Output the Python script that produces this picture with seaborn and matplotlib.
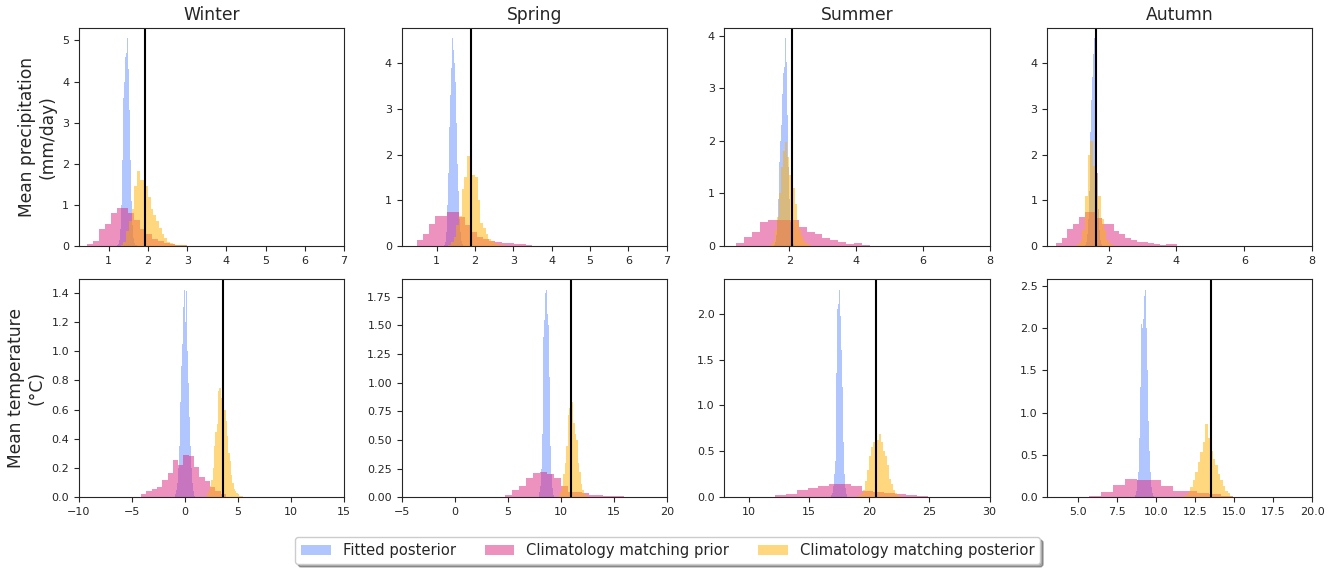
import numpy as np
import pandas as pd
import matplotlib
matplotlib.use("Agg")
import matplotlib.pyplot as plt
from matplotlib.ticker import MaxNLocator
import seaborn as sns
from matplotlib.patches import Patch

seasons = ["Winter", "Spring", "Summer", "Autumn"]
row_labels = ["Mean precipitation\n(mm/day)", "Mean temperature\n(°C)"]
series_labels = ["Fitted posterior", "Climatology matching prior",
                 "Climatology matching posterior"]
series_colors = ["#648FFF", "#DC267F", "#FFB000"]

# Histogram densities. Each *_bins tuple is (first bin edge, bin width).
# --- precipitation (mm/day) ---
pr_win_fit_bins = (1.20, 0.025)
pr_win_fit = [0.02, 0.05, 0.15, 0.4, 1.0, 2.1, 3.1, 3.6, 4.0, 4.6, 4.7, 5.05, 4.3,
              3.3, 2.1, 1.1, 0.5, 0.2, 0.08, 0.03, 0.01]
pr_win_prior_bins = (0.45, 0.15)
pr_win_prior = [0.04, 0.13, 0.40, 0.53, 0.80, 0.91, 0.91, 0.80, 0.62, 0.40, 0.30,
                0.17, 0.12, 0.08, 0.05, 0.02, 0.02]
pr_win_post_bins = (1.30, 0.07)
pr_win_post = [0.02, 0.1, 0.35, 0.6, 0.9, 1.45, 1.82, 1.6, 1.6, 1.45, 1.2, 0.9, 0.75,
               0.6, 0.43, 0.28, 0.18, 0.1, 0.06, 0.04, 0.02, 0.02, 0.01, 0.01]

pr_spr_fit_bins = (1.20, 0.026)
pr_spr_fit = [0.02, 0.08, 0.3, 0.9, 1.6, 2.6, 3.3, 3.9, 4.55, 4.3, 4.0, 3.6, 2.7,
              1.8, 1.2, 0.6, 0.3, 0.1, 0.03]
pr_spr_prior_bins = (0.48, 0.158)
pr_spr_prior = [0.13, 0.25, 0.48, 0.65, 0.65, 0.75, 0.75, 0.63, 0.45, 0.3, 0.2,
                0.15, 0.1, 0.08, 0.07, 0.06, 0.05, 0.04, 0.02]
pr_spr_post_bins = (1.30, 0.07)
pr_spr_post = [0.02, 0.08, 0.2, 0.45, 0.65, 1.25, 1.5, 1.98, 1.55, 1.55, 1.5, 1.0,
               0.5, 0.4, 0.25, 0.15, 0.1, 0.06, 0.03, 0.02, 0.01]

pr_sum_fit_bins = (1.55, 0.03)
pr_sum_fit = [0.02, 0.08, 0.2, 0.5, 0.9, 1.6, 2.0, 2.3, 2.9, 3.3, 3.4, 3.95, 3.5,
              2.5, 1.5, 0.9, 0.45, 0.2, 0.08, 0.03]
pr_sum_prior_bins = (0.41, 0.235)
pr_sum_prior = [0.06, 0.16, 0.27, 0.45, 0.49, 0.50, 0.50, 0.50, 0.35, 0.27, 0.22,
                0.15, 0.12, 0.07, 0.03, 0.05, 0.02]
pr_sum_post_bins = (1.45, 0.06)
pr_sum_post = [0.03, 0.1, 0.3, 0.55, 1.0, 1.5, 1.8, 1.98, 1.7, 1.35, 1.25, 1.1, 0.8,
               0.45, 0.3, 0.18, 0.1, 0.05, 0.03, 0.01]

pr_aut_fit_bins = (1.30, 0.03)
pr_aut_fit = [0.02, 0.08, 0.25, 0.6, 1.2, 2.5, 3.2, 3.7, 4.2, 4.55, 3.6, 2.5, 1.6,
              0.8, 0.35, 0.12, 0.04]
pr_aut_prior_bins = (0.45, 0.17)
pr_aut_prior = [0.06, 0.18, 0.37, 0.47, 0.64, 0.75, 0.75, 0.62, 0.47, 0.47, 0.33,
                0.27, 0.17, 0.13, 0.08, 0.08, 0.06, 0.03, 0.02, 0.03, 0.03]
pr_aut_post_bins = (1.07, 0.0785)
pr_aut_post = [0.03, 0.1, 0.35, 1.1, 2.0, 2.3, 1.75, 1.6, 1.1, 0.6, 0.35, 0.12,
               0.05, 0.02]

# --- temperature (°C) ---
tas_win_fit_bins = (-0.915, 0.095)
tas_win_fit = [0.02, 0.05, 0.1, 0.2, 0.35, 0.65, 0.9, 1.05, 1.3, 1.42, 1.2, 1.41,
               1.0, 0.78, 0.55, 0.35, 0.2, 0.1, 0.04, 0.01]
tas_win_prior_bins = (-4.15, 0.5)
tas_win_prior = [0.02, 0.04, 0.06, 0.07, 0.12, 0.165, 0.256, 0.22, 0.29, 0.28,
                 0.21, 0.14, 0.11, 0.07, 0.04, 0.02]
tas_win_post_bins = (2.10, 0.125)
tas_win_post = [0.03, 0.05, 0.08, 0.12, 0.2, 0.35, 0.45, 0.5, 0.73, 0.75, 0.68,
                0.7, 0.8, 0.6, 0.52, 0.42, 0.3, 0.25, 0.15, 0.1, 0.06, 0.04, 0.03,
                0.02, 0.01, 0.01, 0.01, 0.005]

tas_spr_fit_bins = (7.94, 0.095)
tas_spr_fit = [0.05, 0.1, 0.25, 0.55, 1.4, 1.55, 1.78, 1.81, 1.6, 1.5, 1.05, 0.45,
               0.2, 0.08, 0.02]
tas_spr_prior_bins = (4.75, 0.66)
tas_spr_prior = [0.02, 0.06, 0.1, 0.17, 0.21, 0.22, 0.2, 0.17, 0.1, 0.05, 0.05,
                 0.04, 0.02, 0.02, 0.01, 0.01, 0.01]
tas_spr_post_bins = (9.80, 0.14)
tas_spr_post = [0.02, 0.05, 0.1, 0.2, 0.3, 0.45, 0.72, 0.78, 0.78, 0.83, 0.65, 0.55,
                0.5, 0.3, 0.22, 0.12, 0.06, 0.03, 0.02, 0.01]

tas_sum_fit_bins = (16.8, 0.083)
tas_sum_fit = [0.02, 0.05, 0.12, 0.25, 0.4, 1.35, 2.05, 2.1, 2.26, 1.97, 1.6, 1.2,
               0.6, 0.25, 0.1, 0.04]
tas_sum_prior_bins = (12.16, 0.91)
tas_sum_prior = [0.02, 0.04, 0.08, 0.1, 0.12, 0.14, 0.14, 0.12, 0.07, 0.06, 0.05,
                 0.04, 0.02, 0.01]
tas_sum_post_bins = (19.0, 0.166)
tas_sum_post = [0.01, 0.02, 0.04, 0.08, 0.18, 0.3, 0.45, 0.55, 0.6, 0.65, 0.62,
                0.69, 0.6, 0.5, 0.45, 0.35, 0.2, 0.15, 0.08, 0.05, 0.03, 0.01]

tas_aut_fit_bins = (8.6, 0.064)
tas_aut_fit = [0.03, 0.08, 0.2, 0.3, 0.7, 1.3, 2.05, 2.0, 2.1, 2.38, 2.45, 2.0, 1.5,
               0.9, 0.55, 0.3, 0.12, 0.05, 0.02]
tas_aut_prior_bins = (5.67, 0.77)
tas_aut_prior = [0.02, 0.06, 0.14, 0.21, 0.2, 0.2, 0.13, 0.07, 0.07, 0.05, 0.04,
                 0.02]
tas_aut_post_bins = (11.7, 0.16)
tas_aut_post = [0.02, 0.03, 0.06, 0.12, 0.2, 0.3, 0.42, 0.53, 0.65, 0.86, 0.7, 0.55,
                0.45, 0.38, 0.28, 0.2, 0.13, 0.08, 0.05, 0.02]

# Observed seasonal means (vertical reference lines)
observed_pr = [1.93, 1.89, 2.07, 1.64]
observed_tas = [3.55, 11.0, 20.57, 13.51]

# Per-row, per-season collections: (bins, heights) for fit / prior / posterior
panels = [
    [
        [(pr_win_fit_bins, pr_win_fit), (pr_win_prior_bins, pr_win_prior), (pr_win_post_bins, pr_win_post)],
        [(pr_spr_fit_bins, pr_spr_fit), (pr_spr_prior_bins, pr_spr_prior), (pr_spr_post_bins, pr_spr_post)],
        [(pr_sum_fit_bins, pr_sum_fit), (pr_sum_prior_bins, pr_sum_prior), (pr_sum_post_bins, pr_sum_post)],
        [(pr_aut_fit_bins, pr_aut_fit), (pr_aut_prior_bins, pr_aut_prior), (pr_aut_post_bins, pr_aut_post)],
    ],
    [
        [(tas_win_fit_bins, tas_win_fit), (tas_win_prior_bins, tas_win_prior), (tas_win_post_bins, tas_win_post)],
        [(tas_spr_fit_bins, tas_spr_fit), (tas_spr_prior_bins, tas_spr_prior), (tas_spr_post_bins, tas_spr_post)],
        [(tas_sum_fit_bins, tas_sum_fit), (tas_sum_prior_bins, tas_sum_prior), (tas_sum_post_bins, tas_sum_post)],
        [(tas_aut_fit_bins, tas_aut_fit), (tas_aut_prior_bins, tas_aut_prior), (tas_aut_post_bins, tas_aut_post)],
    ],
]
observed = [observed_pr, observed_tas]
x_limits = [
    [(0.24, 7), (0.09, 7), (0.06, 8), (0.195, 8)],
    [(-10, 15), (-5, 20), (8, 30), (3, 20)],
]

sns.set_style("ticks")
plt.rcParams["font.family"] = ["DejaVu Sans"]
plt.rcParams["xtick.labelsize"] = 8
plt.rcParams["ytick.labelsize"] = 8


def draw_hist(ax, bins, heights, color):
    lo, width = bins
    n = len(heights)
    centers = lo + width * (np.arange(n) + 0.5)
    frame = pd.DataFrame({"value": centers, "density": heights})
    sns.histplot(data=frame, x="value", weights="density", bins=n,
                 binrange=(lo, lo + width * n), stat="count", element="bars",
                 color=color, alpha=0.5, linewidth=0, ax=ax)


fig, axes = plt.subplots(2, 4, figsize=(13.41, 5.68), dpi=100)
fig.subplots_adjust(left=0.0589, right=0.9786, top=0.9507, bottom=0.1245,
                    wspace=0.2177, hspace=0.154)

for r in range(2):
    for c in range(4):
        ax = axes[r, c]
        for (bins, heights), color in zip(panels[r][c], series_colors):
            draw_hist(ax, bins, heights, color)
        ax.axvline(observed[r][c], color="black", linewidth=1.5)
        ax.set_xlim(*x_limits[r][c])
        ax.yaxis.set_major_locator(MaxNLocator(nbins=8, steps=[1, 2, 2.5, 5, 10]))
        ax.set_xlabel("")
        ax.set_ylabel("")
        if r == 0:
            ax.set_title(seasons[c], fontsize=12.3)
        if c == 0:
            ax.set_ylabel(row_labels[r], fontsize=12.3)

handles = [Patch(facecolor=col, alpha=0.5, edgecolor="none") for col in series_colors]
fig.legend(handles, series_labels, loc="upper center", bbox_to_anchor=(0.498, 0.067),
           ncol=3, fontsize=10.6, shadow=True, frameon=True, columnspacing=2.0)

fig.savefig("out.png", dpi=100)
